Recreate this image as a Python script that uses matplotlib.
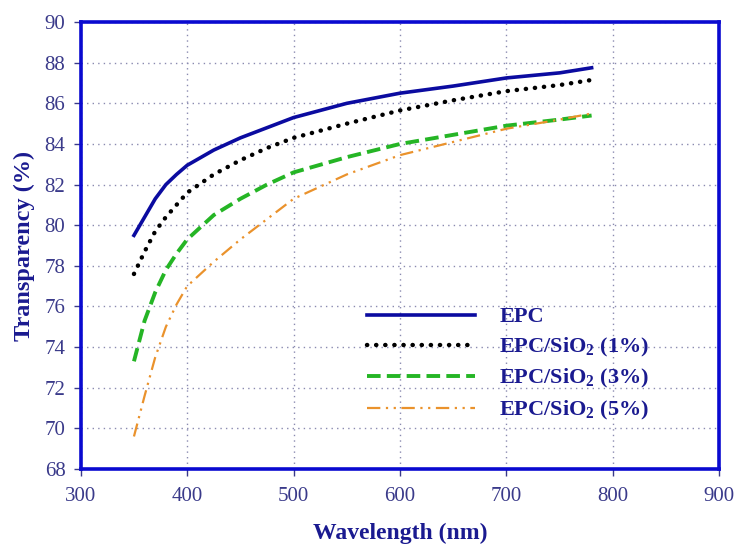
import matplotlib.pyplot as plt

# Transparency spectra
wavelength = [350, 360, 370, 380, 390, 400, 425, 450, 475, 500, 550, 600, 650, 700, 750, 780]
epc = [79.5, 80.4, 81.3, 82.0, 82.5, 82.95, 83.7, 84.3, 84.8, 85.3, 86.0, 86.5, 86.85, 87.25, 87.5, 87.75]
epc_1 = [77.6, 78.7, 79.7, 80.4, 81.0, 81.6, 82.5, 83.2, 83.8, 84.3, 85.0, 85.65, 86.15, 86.6, 86.9, 87.15]
epc_3 = [73.3, 75.3, 76.7, 77.8, 78.6, 79.3, 80.5, 81.3, 82.0, 82.6, 83.35, 84.0, 84.45, 84.9, 85.2, 85.4]
epc_5 = [69.6, 71.6, 73.5, 75.0, 76.1, 77.0, 78.2, 79.3, 80.3, 81.3, 82.5, 83.45, 84.1, 84.75, 85.2, 85.5]

labels = ["EPC", r"EPC/SiO$_\mathbf{2}$ (1%)", r"EPC/SiO$_\mathbf{2}$ (3%)", r"EPC/SiO$_\mathbf{2}$ (5%)"]
x_ticks = [300, 400, 500, 600, 700, 800, 900]
y_ticks = [68, 70, 72, 74, 76, 78, 80, 82, 84, 86, 88, 90]

plt.rcParams["font.family"] = ["Liberation Serif", "DejaVu Serif"]
plt.rcParams["mathtext.fontset"] = "custom"
plt.rcParams["mathtext.rm"] = "Liberation Serif:bold"
plt.rcParams["mathtext.bf"] = "Liberation Serif:bold"

fig = plt.figure(figsize=(7.34, 5.45), dpi=100)
ax = fig.add_axes([0.110, 0.1395, 0.870, 0.820])

ax.plot(wavelength, epc, color="#0b0ba0", lw=2.6, label=labels[0])
ax.plot(wavelength, epc_1, color="black", lw=3.2, linestyle=(0, (0.05, 2.0)),
        dash_capstyle="round", label=labels[1])
ax.plot(wavelength, epc_3, color="#25b525", lw=2.8, linestyle=(0, (3.5, 1.6)), label=labels[2])
ax.plot(wavelength, epc_5, color="#ea922c", lw=1.6,
        linestyle=(0, (6, 2.5, 1, 2.5, 1, 2.5)), label=labels[3])

ax.set_xlim(300, 900)
ax.set_ylim(68, 90)
ax.set_xticks(x_ticks)
ax.set_yticks(y_ticks)
ax.grid(True, color="#8a8ab0", linestyle=(0, (1, 3)), lw=1.0)

for s in ax.spines.values():
    s.set_color("#0a0ad0")
    s.set_linewidth(2.6)

ax.tick_params(axis="both", colors="#3a3a8a", labelsize=15, length=5, width=1)
ax.tick_params(axis="x", pad=8)
ax.tick_params(axis="y", pad=6)

ax.set_xlabel("Wavelength (nm)", fontsize=17, fontweight="bold", color="#1a1a90", labelpad=12)
ax.set_ylabel("Transparency (%)", fontsize=17.5, fontweight="bold", color="#1a1a90", labelpad=7)

leg = ax.legend(loc="upper left", bbox_to_anchor=(0.5, 0.437), bbox_transform=fig.transFigure,
                frameon=False, borderpad=0, borderaxespad=0,
                handlelength=4.85, handletextpad=1.1, labelspacing=0.38,
                prop={"size": 16, "weight": "bold"})
for t in leg.get_texts():
    t.set_color("#1a1a90")

fig.savefig("out.png", dpi=100)
